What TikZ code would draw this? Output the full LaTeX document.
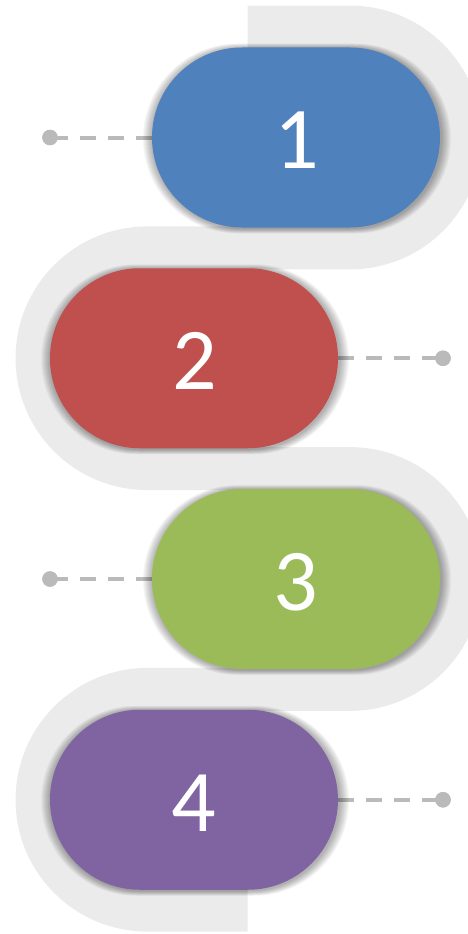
\documentclass[tikz,border=0pt]{standalone}
\usepackage{fontspec}
\setmainfont{Carlito}
\usetikzlibrary{shapes.misc}
\definecolor{stepblue}{HTML}{4F81BD}
\definecolor{stepred}{HTML}{C0504D}
\definecolor{stepgreen}{HTML}{9BBB59}
\definecolor{steppurple}{HTML}{8064A2}
\definecolor{ribbongray}{HTML}{EBEBEB}
\definecolor{leadergray}{HTML}{BABABA}
\pgfdeclarelayer{back}
\pgfdeclarelayer{mid}
\pgfsetlayers{back,mid,main}
\tikzset{
  pill/.style={rounded rectangle, minimum width=288pt, minimum height=180pt,
    inner sep=0pt, draw=none},
  halo/.style={rounded rectangle, minimum width=288pt+2*#1,
    minimum height=180pt+#1, inner sep=0pt, draw=none,
    fill=black, fill opacity=0.035},
  num/.style={text=white, font=\fontsize{88}{88}\selectfont, inner sep=0pt},
  leaderdot/.style={circle, fill=leadergray, minimum size=15.5pt, inner sep=0pt},
  leader/.style={draw=leadergray, line width=4pt, dash pattern=on 16pt off 12pt},
  ribbon/.style={draw=ribbongray, line width=43pt}
}
\begin{document}
\begin{tikzpicture}[x=1pt,y=1pt]
  \useasboundingbox (0,0) rectangle (468,-934);

  \coordinate (c1) at (296,-137.5);
  \coordinate (c2) at (194,-358.25);
  \coordinate (c3) at (296,-579);
  \coordinate (c4) at (194,-799.75);

  % soft drop shadows under the pills
  \foreach \c in {c1,c2,c3,c4}
    \foreach \k in {1,...,10}
      \node[halo=\k pt] at ([xshift=1pt,yshift=-1pt]\c) {};

  % step pills
  \node[pill, fill=stepblue]   (p1) at (c1) {};
  \node[pill, fill=stepred]    (p2) at (c2) {};
  \node[pill, fill=stepgreen]  (p3) at (c3) {};
  \node[pill, fill=steppurple] (p4) at (c4) {};

  \node[num] (n1) at ([xshift=1pt,yshift=-3pt]p1.center) {1};
  \node[num] (n2) at ([xshift=0.5pt,yshift=-3pt]p2.center) {2};
  \node[num] (n3) at ([yshift=-3pt]p3.center) {3};
  \node[num] (n4) at ([yshift=-3pt]p4.center) {4};

  % winding ribbon behind the pills
  \begin{pgfonlayer}{back}
    \draw[ribbon] (247.7,-27.1) -- (350,-27.1)
      arc[start angle=90, end angle=-90, radius=110.4] -- (147.4,-247.9)
      arc[start angle=90, end angle=270, radius=110.35] -- (350,-468.6)
      arc[start angle=90, end angle=-90, radius=110.4] -- (147.4,-689.4)
      arc[start angle=90, end angle=270, radius=110.35] -- (247.7,-910.1);
  \end{pgfonlayer}

  % dashed leaders with end dots
  \begin{pgfonlayer}{mid}
    \node[leaderdot] (d1) at (50,-137.5)   {};
    \node[leaderdot] (d2) at (443,-358.25) {};
    \node[leaderdot] (d3) at (50,-579)     {};
    \node[leaderdot] (d4) at (443,-799.75) {};
    \draw[leader] (p1.west) -- (d1.center);
    \draw[leader] (p2.east) -- (d2.center);
    \draw[leader] (p3.west) -- (d3.center);
    \draw[leader] (p4.east) -- (d4.center);
    \node[leaderdot] at (d1) {};
    \node[leaderdot] at (d2) {};
    \node[leaderdot] at (d3) {};
    \node[leaderdot] at (d4) {};
  \end{pgfonlayer}
\end{tikzpicture}
\end{document}
